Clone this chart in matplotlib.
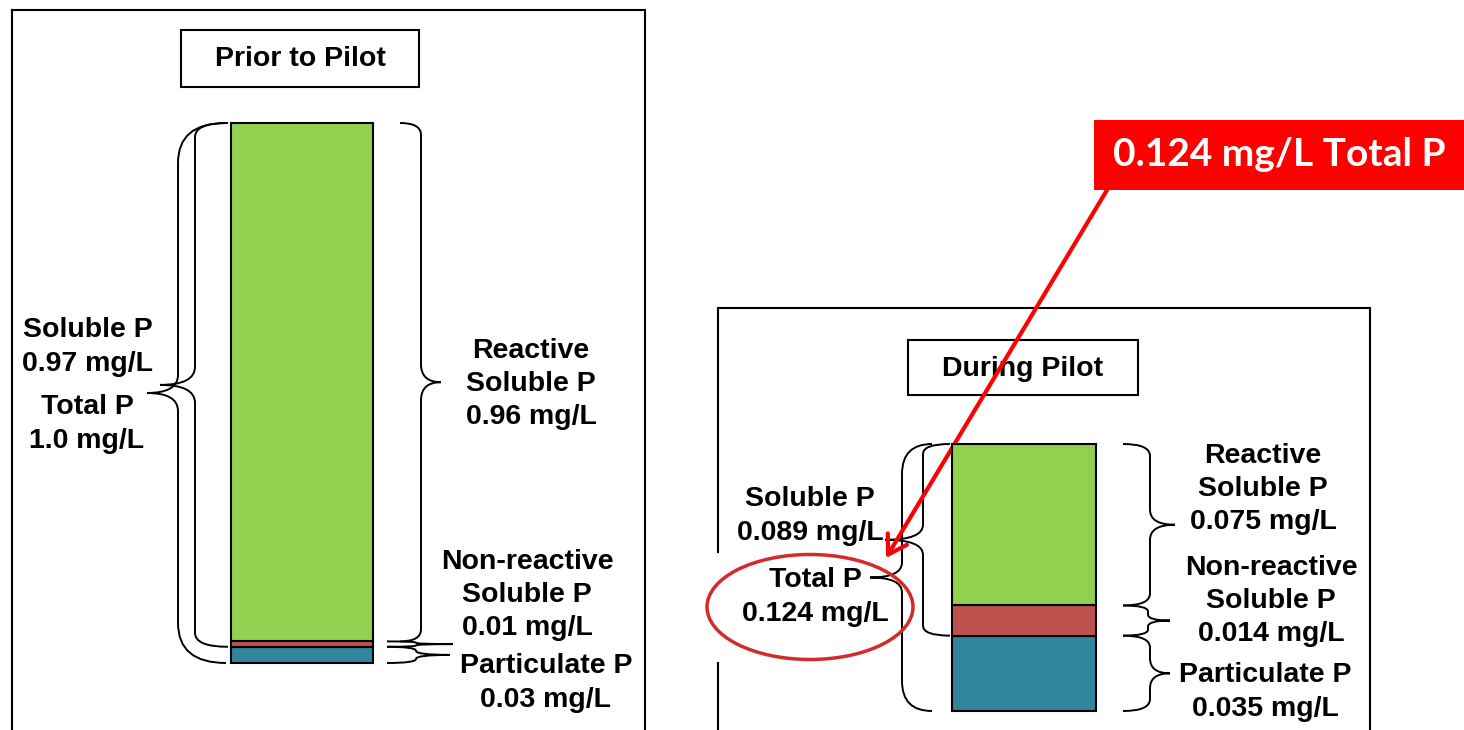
import matplotlib.pyplot as plt
from matplotlib.path import Path
from matplotlib.patches import PathPatch, Rectangle, Ellipse

# phosphorus fractions, bottom to top of each stacked bar (mg/L)
fraction_names = ['Particulate P', 'Non-reactive Soluble P', 'Reactive Soluble P']
fraction_colors = ['#31859C', '#C0504D', '#92D050']

prior_values = [0.03, 0.01, 0.96]
prior_soluble = 0.97
prior_total = 1.0

during_values = [0.035, 0.014, 0.075]
during_soluble = 0.089
during_total = 0.124

prior_labels = ['Particulate P\n0.03 mg/L', 'Non-reactive\nSoluble P\n0.01 mg/L',
                'Reactive\nSoluble P\n0.96 mg/L']
during_labels = ['Particulate P\n0.035 mg/L', 'Non-reactive\nSoluble P\n0.014 mg/L',
                 'Reactive\nSoluble P\n0.075 mg/L']
prior_soluble_label = 'Soluble P\n0.97 mg/L'
prior_total_label = 'Total P\n1.0 mg/L'
during_soluble_label = 'Soluble P\n0.089 mg/L'
during_total_label = 'Total P\n0.124 mg/L'
callout_text = '0.124 mg/L Total P'

W, H = 1464, 730
fig = plt.figure(figsize=(W / 100, H / 100), dpi=100)

# overlay axes in pixel units for frames, braces and text
over = fig.add_axes([0, 0, 1, 1])
over.set_xlim(0, W)
over.set_ylim(H, 0)
over.axis('off')

FONT = dict(family=['Liberation Sans', 'DejaVu Sans'], fontweight='bold',
            fontsize=20.5, ha='center', va='center', linespacing=1.36)


def bar_axes(x0, x1, y_top, y_bot, total):
    ax = fig.add_axes([x0 / W, 1 - y_bot / H, (x1 - x0) / W, (y_bot - y_top) / H])
    ax.set_xlim(-0.5, 0.5)
    ax.set_ylim(0, total)
    ax.axis('off')
    return ax


def stacked_bar(ax, values):
    bottom = 0
    edges = [0]
    for v, c in zip(values, fraction_colors):
        ax.bar(0, v, width=1, bottom=bottom, color=c, edgecolor='black',
               linewidth=1.5, clip_on=False)
        bottom += v
        edges.append(bottom)
    return edges


def ypix(ax, v):
    disp = ax.transData.transform((0, v))
    return over.transData.inverted().transform(disp)[1]


def brace(x_end, x_spine, x_tip, y_top, y_bot, r_end=12, r_mid=15):
    y_mid = (y_top + y_bot) / 2
    half = (y_bot - y_top) / 2
    r_end = min(r_end, half / 2)
    r_mid = min(r_mid, half / 2)
    verts = [(x_end, y_top), (x_spine, y_top), (x_spine, y_top + r_end),
             (x_spine, y_mid - r_mid), (x_spine, y_mid), (x_tip, y_mid),
             (x_spine, y_mid), (x_spine, y_mid + r_mid),
             (x_spine, y_bot - r_end), (x_spine, y_bot), (x_end, y_bot)]
    codes = [Path.MOVETO, Path.CURVE3, Path.CURVE3, Path.LINETO,
             Path.CURVE3, Path.CURVE3, Path.CURVE3, Path.CURVE3,
             Path.LINETO, Path.CURVE3, Path.CURVE3]
    over.add_patch(PathPatch(Path(verts, codes), fill=False, edgecolor='black',
                             linewidth=1.4, zorder=3))


def frame(segments):
    for (x0, y0), (x1, y1) in segments:
        over.plot([x0, x1], [y0, y1], color='black', lw=1.5, zorder=2)


def title_box(x, y, w, h, s):
    over.add_patch(Rectangle((x, y), w, h, facecolor='white', edgecolor='black',
                             lw=1.5, zorder=2))
    over.text(x + w / 2, y + h / 2 + 1, s, **FONT, zorder=3)


# ---- Prior to Pilot panel ----
frame([((12, H), (12, 10)), ((12, 10), (645, 10)), ((645, 10), (645, H))])
title_box(181, 30, 238, 57, 'Prior to Pilot')

ax1 = bar_axes(231, 373, 123, 663, prior_total)
e1 = stacked_bar(ax1, prior_values)
p1 = [ypix(ax1, v) for v in e1]
top1 = ypix(ax1, prior_total)

brace(228, 195, 160, top1, ypix(ax1, prior_total - prior_soluble), r_end=14, r_mid=18)
brace(226, 178, 147, top1, ypix(ax1, 0), r_end=40, r_mid=18)
brace(400, 421, 441, p1[3], p1[2], r_end=12, r_mid=18)
brace(387, 416, 453, p1[2], p1[1])
brace(387, 416, 450, p1[1], p1[0])

over.text(88, 347, prior_soluble_label, **FONT)
over.text(87, 424, prior_total_label, **FONT)
over.text(531, 384, prior_labels[2], **FONT)
over.text(527, 595, prior_labels[1], **FONT)
over.text(546, 683, prior_labels[0], **FONT)

# ---- During Pilot panel ----
frame([((718, H), (718, 663)), ((718, 552), (718, 308)),
       ((718, 308), (1370, 308)), ((1370, 308), (1370, H))])
title_box(908, 340, 230, 55, 'During Pilot')

ax2 = bar_axes(952, 1096, 444, 711, during_total)
e2 = stacked_bar(ax2, during_values)
p2 = [ypix(ax2, v) for v in e2]
top2 = ypix(ax2, during_total)

brace(950, 923, 885, top2, ypix(ax2, during_total - during_soluble), r_end=10, r_mid=15)
brace(932, 902, 870, top2, ypix(ax2, 0), r_end=30, r_mid=15)
brace(1123, 1150, 1175, p2[3], p2[2], r_end=12, r_mid=15)
brace(1123, 1148, 1170, p2[2], p2[1], r_end=6, r_mid=6)
brace(1123, 1150, 1170, p2[1], p2[0], r_end=12, r_mid=15)

over.text(810, 516, during_soluble_label, **FONT)
over.text(815, 597, during_total_label, **FONT)
over.text(1263, 489, during_labels[2], **FONT)
over.text(1271, 601, during_labels[1], **FONT)
over.text(1265, 692, during_labels[0], **FONT)

# ---- highlight of the total P result ----
over.add_patch(Ellipse((810, 607), 206, 105, fill=False, edgecolor='#D42A2A',
                       lw=2.5, zorder=5))
over.add_patch(Rectangle((1094, 120), 370, 70, facecolor='#FF0000',
                         edgecolor='none', zorder=5))
over.text(1279, 155, callout_text, color='white', fontsize=28, fontweight='bold',
          family=['Lato', 'DejaVu Sans'], ha='center', va='center', zorder=6)
over.annotate('', xy=(886, 558), xytext=(1107, 190),
              arrowprops=dict(arrowstyle='->,head_length=1.3,head_width=0.8',
                              color='#FF0000', lw=3, shrinkA=0, shrinkB=0),
              zorder=6)

fig.savefig('out.png', dpi=100, facecolor='white')
